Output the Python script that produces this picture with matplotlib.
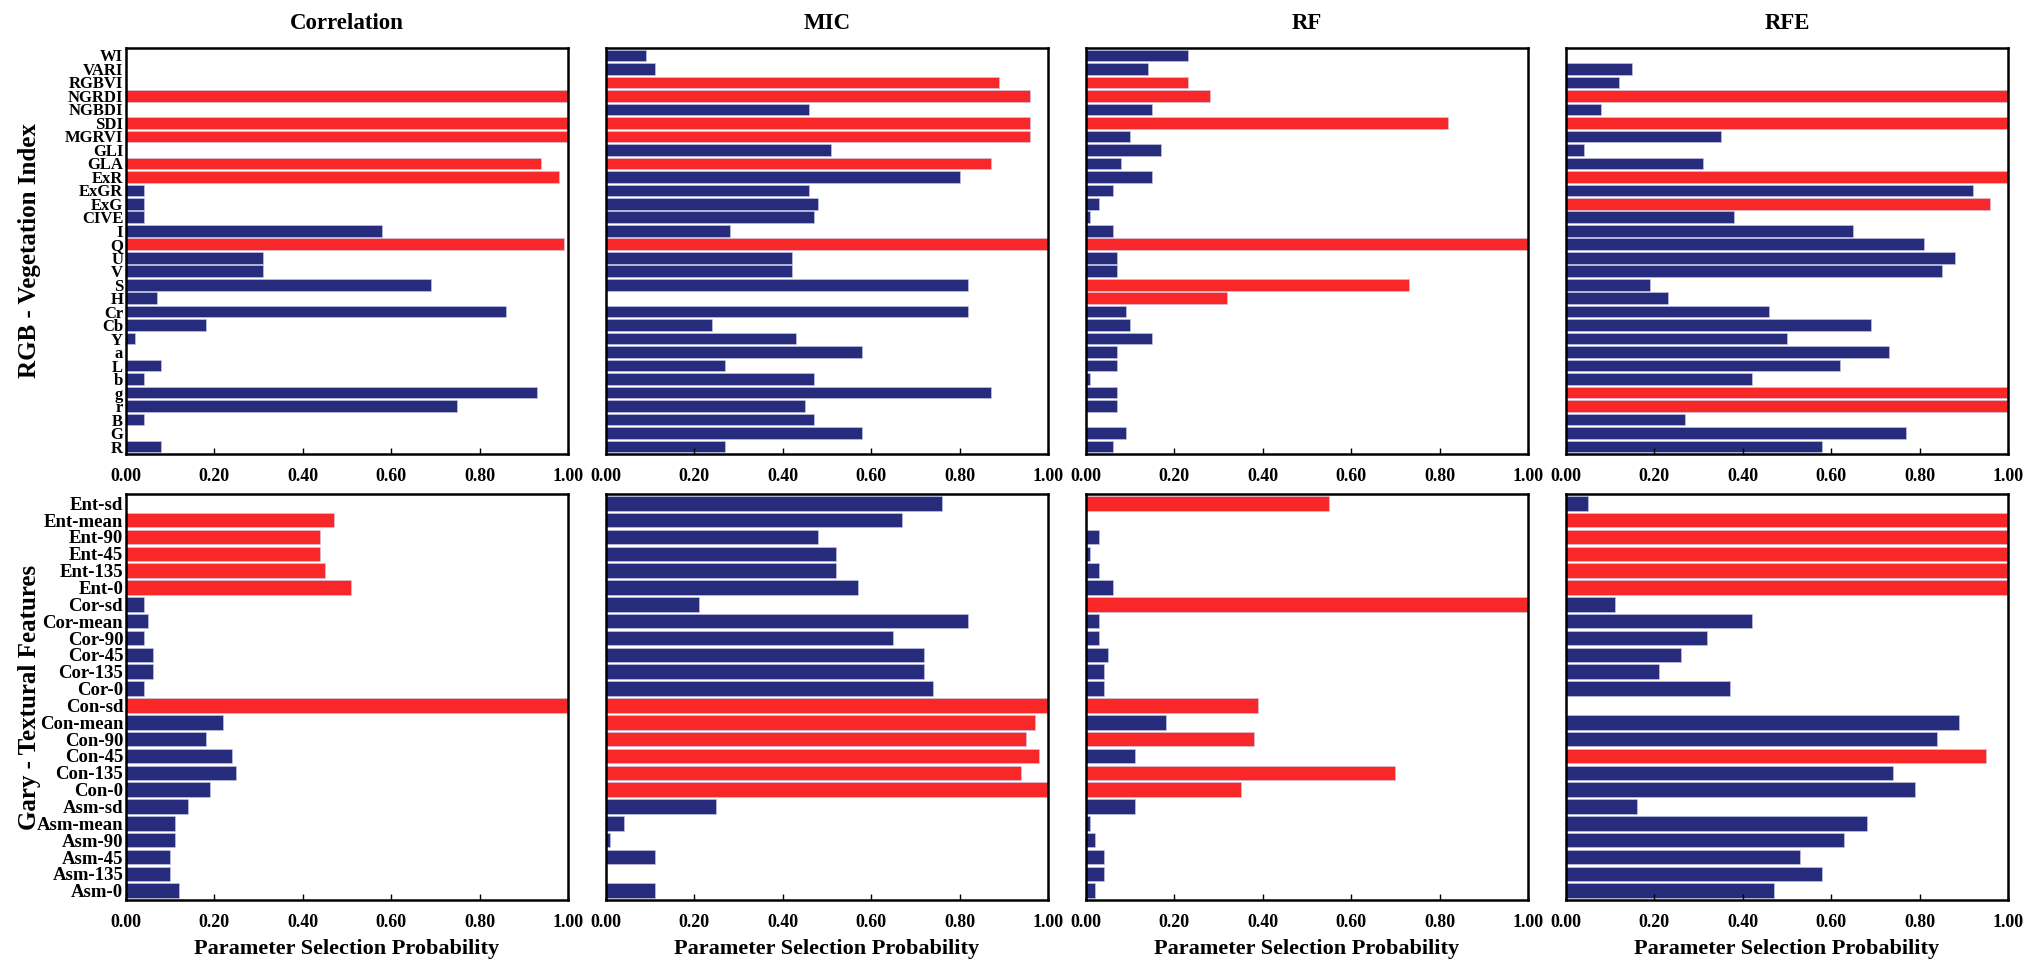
import numpy as np
import matplotlib
matplotlib.use("Agg")
import matplotlib.pyplot as plt

plt.rcParams['font.family'] = ['Liberation Serif', 'DejaVu Serif']
plt.rcParams['font.weight'] = 'bold'

# categories, listed top to bottom
rgb_names = ["WI", "VARI", "RGBVI", "NGRDI", "NGBDI", "SDI", "MGRVI", "GLI", "GLA", "ExR",
             "ExGR", "ExG", "CIVE", "I", "Q", "U", "V", "S", "H", "Cr",
             "Cb", "Y", "a", "L", "b", "g", "r", "B", "G", "R"]
tex_names = ["Ent-sd", "Ent-mean", "Ent-90", "Ent-45", "Ent-135", "Ent-0",
             "Cor-sd", "Cor-mean", "Cor-90", "Cor-45", "Cor-135", "Cor-0",
             "Con-sd", "Con-mean", "Con-90", "Con-45", "Con-135", "Con-0",
             "Asm-sd", "Asm-mean", "Asm-90", "Asm-45", "Asm-135", "Asm-0"]

methods = ["Correlation", "MIC", "RF", "RFE"]

# RGB vegetation index values
rgb_corr = [0, 0, 0, 1.0, 0, 1.0, 1.0, 0, 0.94, 0.98,
            0.04, 0.04, 0.04, 0.58, 0.99, 0.31, 0.31, 0.69, 0.07, 0.86,
            0.18, 0.02, 0, 0.08, 0.04, 0.93, 0.75, 0.04, 0, 0.08]
rgb_mic = [0.09, 0.11, 0.89, 0.96, 0.46, 0.96, 0.96, 0.51, 0.87, 0.80,
           0.46, 0.48, 0.47, 0.28, 1.0, 0.42, 0.42, 0.82, 0, 0.82,
           0.24, 0.43, 0.58, 0.27, 0.47, 0.87, 0.45, 0.47, 0.58, 0.27]
rgb_rf = [0.23, 0.14, 0.23, 0.28, 0.15, 0.82, 0.10, 0.17, 0.08, 0.15,
          0.06, 0.03, 0.01, 0.06, 1.0, 0.07, 0.07, 0.73, 0.32, 0.09,
          0.10, 0.15, 0.07, 0.07, 0.01, 0.07, 0.07, 0, 0.09, 0.06]
rgb_rfe = [0, 0.15, 0.12, 1.0, 0.08, 1.0, 0.35, 0.04, 0.31, 1.0,
           0.92, 0.96, 0.38, 0.65, 0.81, 0.88, 0.85, 0.19, 0.23, 0.46,
           0.69, 0.50, 0.73, 0.62, 0.42, 1.0, 1.0, 0.27, 0.77, 0.58]

# selected (red) flags
rgb_corr_sel = [0, 0, 0, 1, 0, 1, 1, 0, 1, 1, 0, 0, 0, 0, 1, 0, 0, 0, 0, 0,
                0, 0, 0, 0, 0, 0, 0, 0, 0, 0]
rgb_mic_sel = [0, 0, 1, 1, 0, 1, 1, 0, 1, 0, 0, 0, 0, 0, 1, 0, 0, 0, 0, 0,
               0, 0, 0, 0, 0, 0, 0, 0, 0, 0]
rgb_rf_sel = [0, 0, 1, 1, 0, 1, 0, 0, 0, 0, 0, 0, 0, 0, 1, 0, 0, 1, 1, 0,
              0, 0, 0, 0, 0, 0, 0, 0, 0, 0]
rgb_rfe_sel = [0, 0, 0, 1, 0, 1, 0, 0, 0, 1, 0, 1, 0, 0, 0, 0, 0, 0, 0, 0,
               0, 0, 0, 0, 0, 1, 1, 0, 0, 0]

# textural feature values
tex_corr = [0, 0.47, 0.44, 0.44, 0.45, 0.51,
            0.04, 0.05, 0.04, 0.06, 0.06, 0.04,
            1.0, 0.22, 0.18, 0.24, 0.25, 0.19,
            0.14, 0.11, 0.11, 0.10, 0.10, 0.12]
tex_mic = [0.76, 0.67, 0.48, 0.52, 0.52, 0.57,
           0.21, 0.82, 0.65, 0.72, 0.72, 0.74,
           1.0, 0.97, 0.95, 0.98, 0.94, 1.0,
           0.25, 0.04, 0.01, 0.11, 0, 0.11]
tex_rf = [0.55, 0, 0.03, 0.01, 0.03, 0.06,
          1.0, 0.03, 0.03, 0.05, 0.04, 0.04,
          0.39, 0.18, 0.38, 0.11, 0.70, 0.35,
          0.11, 0.01, 0.02, 0.04, 0.04, 0.02]
tex_rfe = [0.05, 1.0, 1.0, 1.0, 1.0, 1.0,
           0.11, 0.42, 0.32, 0.26, 0.21, 0.37,
           0, 0.89, 0.84, 0.95, 0.74, 0.79,
           0.16, 0.68, 0.63, 0.53, 0.58, 0.47]

tex_corr_sel = [0, 1, 1, 1, 1, 1, 0, 0, 0, 0, 0, 0, 1, 0, 0, 0, 0, 0, 0, 0, 0, 0, 0, 0]
tex_mic_sel = [0, 0, 0, 0, 0, 0, 0, 0, 0, 0, 0, 0, 1, 1, 1, 1, 1, 1, 0, 0, 0, 0, 0, 0]
tex_rf_sel = [1, 0, 0, 0, 0, 0, 1, 0, 0, 0, 0, 0, 1, 0, 1, 0, 1, 1, 0, 0, 0, 0, 0, 0]
tex_rfe_sel = [0, 1, 1, 1, 1, 1, 0, 0, 0, 0, 0, 0, 0, 0, 0, 1, 0, 0, 0, 0, 0, 0, 0, 0]

rows = [
    (rgb_names, [rgb_corr, rgb_mic, rgb_rf, rgb_rfe],
     [rgb_corr_sel, rgb_mic_sel, rgb_rf_sel, rgb_rfe_sel], "RGB - Vegetation Index"),
    (tex_names, [tex_corr, tex_mic, tex_rf, tex_rfe],
     [tex_corr_sel, tex_mic_sel, tex_rf_sel, tex_rfe_sel], "Gary - Textural Features"),
]

blue = "#262b7c"
red = "#f82828"

W, H = 2031, 969
fig = plt.figure(figsize=(W / 100, H / 100), dpi=100)

col_left = [126, 606, 1086, 1566]
ax_w = 442
row_top = [48, 494]
ax_h = 406
tick_fs = [12, 13.5]

for r, (names, vals, sels, ylab) in enumerate(rows):
    n = len(names)
    y = np.arange(n)
    for c in range(4):
        ax = fig.add_axes([col_left[c] / W, 1 - (row_top[r] + ax_h) / H, ax_w / W, ax_h / H])
        colors = [red if s else blue for s in sels[c]]
        ax.barh(y, vals[c], height=0.86, color=colors, edgecolor="#c8cce8", linewidth=0.4)
        ax.set_xlim(0, 1)
        ax.set_ylim(n - 0.45, -0.55)
        ax.set_xticks(np.arange(0, 1.01, 0.2))
        ax.set_xticklabels(["%.2f" % t for t in np.arange(0, 1.01, 0.2)],
                           fontsize=13, fontweight='bold')
        ax.tick_params(axis='x', direction='in', length=4, width=1, pad=10)
        ax.tick_params(axis='y', length=0)
        for sp in ax.spines.values():
            sp.set_linewidth(1.8)
        if c == 0:
            ax.set_yticks(y)
            ax.set_yticklabels(names, fontsize=tick_fs[r], fontweight='bold')
            ax.tick_params(axis='y', pad=2)
        else:
            ax.set_yticks([])
        if r == 0:
            ax.set_title(methods[c], fontsize=16.5, fontweight='bold', pad=14)
        else:
            ax.set_xlabel("Parameter Selection Probability", fontsize=16,
                          fontweight='bold', labelpad=6)
    # row label
    fig.text(30 / W, 1 - (row_top[r] + ax_h / 2) / H, ylab, rotation=90,
             ha='center', va='center', fontsize=18, fontweight='bold')

fig.savefig("out.png", dpi=100)
